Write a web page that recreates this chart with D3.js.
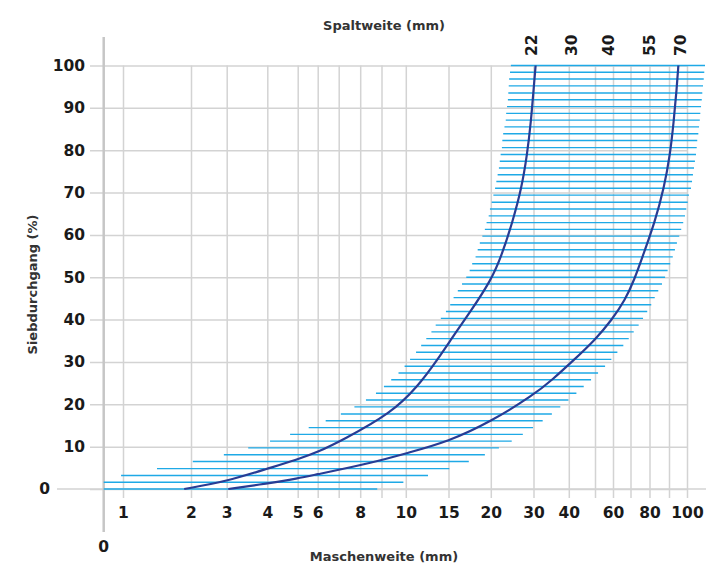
<!DOCTYPE html>
<html>
<head>
<meta charset="utf-8">
<script src="https://cdn.jsdelivr.net/npm/d3@7"></script>
<style>
  body { margin: 0; background: #fff; }
  svg { display: block; }
</style>
</head>
<body>
<svg id="sieve-chart" width="706" height="565"></svg>
<script>

// mesh width axis (mm): grid lines and the ones that get a label
const gridTicks = [1, 2, 3, 4, 5, 6, 7, 8, 9, 10, 15, 20, 30, 40, 50, 60, 70, 80, 90, 100];
const meshLabels = [1, 2, 3, 4, 5, 6, 8, 10, 15, 20, 30, 40, 60, 80, 100];
const passTicks = [0, 10, 20, 30, 40, 50, 60, 70, 80, 90, 100];
const slotLabels = [22, 30, 40, 55, 70];

// hatch band: passing (%) of each line, with its start and end mesh width (mm)
const passing = [100, 98.4, 96.8, 95.2, 93.5, 91.9, 90.3, 88.7, 87.1, 85.5,
  83.9, 82.3, 80.6, 79.0, 77.4, 75.8, 74.2, 72.6, 71.0, 69.4,
  67.7, 66.1, 64.5, 62.9, 61.3, 59.7, 58.1, 56.5, 54.8, 53.2,
  51.6, 50.0, 48.4, 46.8, 45.2, 43.5, 41.9, 40.3, 38.7, 37.1,
  35.5, 33.9, 32.3, 30.6, 29.0, 27.4, 25.8, 24.2, 22.6, 21.0,
  19.4, 17.7, 16.1, 14.5, 12.9, 11.3, 9.7, 8.1, 6.5, 4.8,
  3.2, 1.6, 0];

const hatchFrom = [24.7, 24.5, 24.3, 24.2, 24.1, 24.0, 23.8, 23.6, 23.5, 23.2,
  22.9, 22.7, 22.6, 22.3, 22.1, 21.9, 21.6, 21.3, 21.0, 20.6,
  20.2, 19.9, 19.75, 19.5, 19.3, 19.0, 18.7, 18.45, 18.2, 17.8,
  17.5, 17.1, 16.6, 16.1, 15.6, 15.2, 14.7, 14.1, 13.5, 13.0,
  12.4, 11.8, 11.2, 10.5, 9.95, 9.7, 9.4, 9.1, 8.74, 8.27,
  7.73, 7.1, 6.38, 5.55, 4.75, 4.09, 3.53, 2.92, 2.05, 1.5,
  0.9, 0, 0];

const hatchTo = [110, 109.6, 109.3, 108.9, 108.5, 108.2, 107.8, 107.4, 107.1, 106.7,
  106.3, 105.7, 105.4, 105, 104.4, 103.9, 103.3, 102.8, 102.2, 101.1,
  100.4, 99.6, 98.9, 97.9, 96.8, 95.7, 94.4, 93.3, 92.1, 90.7,
  89.3, 88, 86.4, 84.5, 82.7, 80.9, 78.8, 76.6, 74.3, 71.7,
  69, 65.9, 62.5, 59.1, 55.6, 51.7, 48.5, 45.7, 42.9, 39.9,
  37.6, 35.2, 32.6, 29.9, 27.5, 24.9, 21.9, 19.3, 17.4, 15.1,
  12.6, 9.9, 8.8];

// grading curves [mesh mm, passing %]
const curveFine = [[1.9, 0], [3, 1.8], [4, 4.8], [5, 7.0], [6, 8.7], [7.2, 11.6], [9.4, 17.9],
  [11.4, 24.2], [13.7, 30.5], [15.8, 36.8], [17.5, 41.6], [20.15, 49.4], [22.6, 55.3],
  [25.1, 63.1], [27.2, 71.0], [28.5, 78.9], [29.4, 86.7], [30.05, 94.6], [30.6, 100]];

const curveCoarse = [[3.04, 0], [4, 1.3], [5, 2.5], [6, 3.5], [7, 4.5], [9, 6.8], [10, 8.4],
  [15, 11.2], [20, 15.9], [30, 22.2], [35.2, 25.7], [42, 30.5], [50, 35.2], [59.3, 39.9],
  [66.9, 44.6], [72, 49.4], [76.7, 55.3], [82.8, 63.1], [87.4, 71.0], [90.6, 78.9],
  [92.6, 86.7], [94.3, 94.6], [95.2, 100]];

// the printed mesh axis is hand spaced, so it is a piecewise scale
const meshKnots = [0, 1, 2, 3, 4, 5, 6, 7, 8, 9, 10, 15, 20, 30, 40, 50, 60, 70, 80, 90, 100];
const meshPx = [103.7, 123, 191, 226.7, 267.3, 297.7, 317.7, 338.7, 360.2, 381.5, 405.8,
  448.5, 490.8, 533.5, 568.8, 595, 613, 630.5, 649.5, 669, 687];

const font = "'DejaVu Sans', sans-serif";
const gridColor = '#d3d3d3';
const hatchColor = '#1ea9e6';
const curveColor = '#283c94';

const x = d3.scaleLinear().domain(meshKnots).range(meshPx);
const y = d3.scaleLinear().domain([0, 100]).range([489, 65.5]);
const slot = d3.scaleLog().domain([22, 70]).range([532, 681]);

const svg = d3.select('#sieve-chart');

const gridLeft = 90,
      gridBottom = 498;

// horizontal grid + passing labels
const yAxis = svg.append('g')
    .attr('transform', 'translate(' + gridLeft + ',0)')
    .call(d3.axisLeft(y).tickValues(passTicks).tickSize(-(x(100) - gridLeft)).tickPadding(5));

yAxis.select('.domain').remove();
yAxis.selectAll('line').attr('stroke', gridColor).attr('stroke-width', 1.5);
yAxis.selectAll('text')
    .attr('font-family', font).attr('font-size', 15.5).attr('font-weight', 'bold')
    .attr('fill', '#1a1a1a');

// the zero label sits left of the longer zero line
yAxis.selectAll('.tick').filter(d => d === 0).select('text').attr('x', -40);

// vertical grid + mesh labels
const xAxis = svg.append('g')
    .attr('transform', 'translate(0,' + gridBottom + ')')
    .call(d3.axisBottom(x).tickValues(gridTicks)
      .tickSize(-(gridBottom - y(100))).tickPadding(8.5)
      .tickFormat(d => meshLabels.includes(d) ? d : ''));

xAxis.select('.domain').remove();
xAxis.selectAll('line').attr('stroke', gridColor).attr('stroke-width', 1.5);
xAxis.selectAll('text')
    .attr('font-family', font).attr('font-size', 15.5).attr('font-weight', 'bold')
    .attr('fill', '#1a1a1a');

// zero line runs wider than the rest of the grid
svg.append('line')
    .attr('x1', 57).attr('x2', 706)
    .attr('y1', y(0)).attr('y2', y(0))
    .attr('stroke', gridColor).attr('stroke-width', 1.5);

// origin line of the mesh axis
svg.append('line')
    .attr('x1', x(0)).attr('x2', x(0))
    .attr('y1', 37).attr('y2', 532)
    .attr('stroke', '#c6c6c6').attr('stroke-width', 2.5);

svg.append('text')
    .attr('x', x(0)).attr('y', 552)
    .attr('text-anchor', 'middle')
    .attr('font-family', font).attr('font-size', 15.5).attr('font-weight', 'bold')
    .attr('fill', '#1a1a1a')
    .text('0');

// hatch band
svg.append('g')
    .selectAll('line')
    .data(passing)
    .join('line')
    .attr('x1', (d, i) => x(hatchFrom[i]))
    .attr('x2', (d, i) => x(hatchTo[i]))
    .attr('y1', d => y(d))
    .attr('y2', d => y(d))
    .attr('stroke', hatchColor)
    .attr('stroke-width', 1.4);

// grading curves
const line = d3.line()
    .x(d => x(d[0]))
    .y(d => y(d[1]))
    .curve(d3.curveBasis);

[curveFine, curveCoarse].forEach(c => {
  svg.append('path')
      .datum(c)
      .attr('d', line)
      .attr('fill', 'none')
      .attr('stroke', curveColor)
      .attr('stroke-width', 2.2);
});

// slot width labels on top
svg.append('g')
    .selectAll('text')
    .data(slotLabels)
    .join('text')
    .attr('transform', d => 'translate(' + slot(d) + ',56) rotate(-90)')
    .attr('dominant-baseline', 'central')
    .attr('font-family', font).attr('font-size', 15.5).attr('font-weight', 'bold')
    .attr('fill', '#1a1a1a')
    .text(d => d);

// axis titles
const title = (t) => t.attr('font-family', font).attr('font-size', 13)
    .attr('font-weight', 'bold').attr('fill', '#333').attr('text-anchor', 'middle');

svg.append('text').call(title).attr('x', 384).attr('y', 29.5).text('Spaltweite (mm)');
svg.append('text').call(title).attr('x', 384).attr('y', 561).text('Maschenweite (mm)');
svg.append('text').call(title)
    .attr('transform', 'translate(37,284.5) rotate(-90)')
    .text('Siebdurchgang (%)');

</script>
</body>
</html>
